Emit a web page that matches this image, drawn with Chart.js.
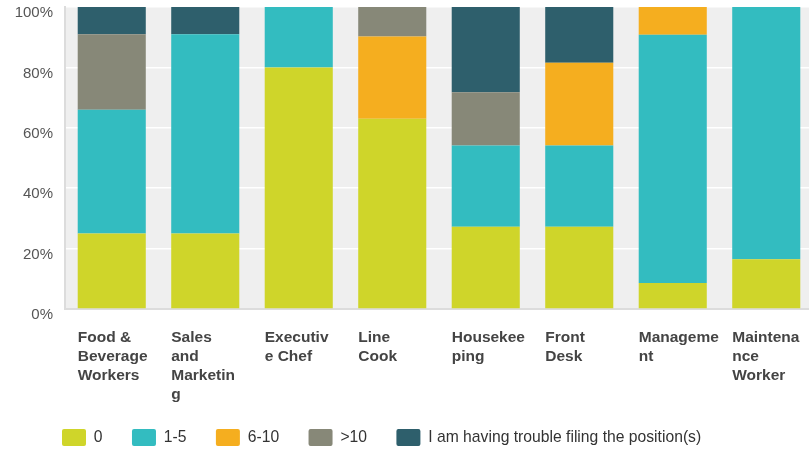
<!DOCTYPE html>
<html>
<head>
<meta charset="utf-8">
<script src="https://cdn.jsdelivr.net/npm/chart.js@4/dist/chart.umd.min.js"></script>
<style>
  html, body { margin: 0; padding: 0; background: #fff; overflow: hidden; }
  #wrap { width: 813px; height: 451px; position: relative; }
</style>
</head>
<body>
<div id="wrap"><canvas id="barChart"></canvas></div>
<script>
const categories = [
  ['Food &', 'Beverage', 'Workers'],
  ['Sales', 'and', 'Marketin', 'g'],
  ['Executiv', 'e Chef'],
  ['Line', 'Cook'],
  ['Housekee', 'ping'],
  ['Front', 'Desk'],
  ['Manageme', 'nt'],
  ['Maintena', 'nce', 'Worker']
];
const zero     = [25, 25, 80, 63, 27.2, 27.2, 8.6, 16.5];
const oneFive  = [41, 66, 20, 0, 26.9, 26.9, 82.2, 83.5];
const sixTen   = [0, 0, 0, 27.2, 0, 27.4, 9.2, 0];
const overTen  = [25, 0, 0, 9.8, 17.7, 0, 0, 0];
const trouble  = [9, 9, 0, 0, 28.2, 18.5, 0, 0];
const yTicks   = [0, 20, 40, 60, 80, 100];

// grey plot background
const plotBg = {
  id: 'plotBg',
  beforeDraw(chart) {
    const { ctx, chartArea: a } = chart;
    ctx.save();
    ctx.fillStyle = '#efefef';
    ctx.fillRect(a.left, a.top, a.right - a.left, a.bottom - a.top);
    ctx.restore();
  }
};

// nudge legend to the left/down, and let wrapped x labels overflow
const tweakLayout = {
  id: 'tweakLayout',
  afterLayout(chart) {
    chart.legend.left = 62 - 29.4;
    chart.legend.top += 5;
    chart.scales.x.bottom = chart.height;
  }
};

const ctx = document.getElementById('barChart').getContext('2d');
new Chart(ctx, {
  type: 'bar',
  data: {
    labels: categories,
    datasets: [
      { label: '0', data: zero, backgroundColor: '#cfd52a' },
      { label: '1-5', data: oneFive, backgroundColor: '#33bcc0' },
      { label: '6-10', data: sixTen, backgroundColor: '#f5ae1f' },
      { label: '>10', data: overTen, backgroundColor: '#878878' },
      { label: 'I am having trouble filing the position(s)', data: trouble, backgroundColor: '#2e5f6c' }
    ]
  },
  options: {
    responsive: true,
    maintainAspectRatio: false,
    animation: false,
    layout: { padding: { left: 0, top: 7, right: 0, bottom: 0 } },
    datasets: {
      bar: { barPercentage: 0.728, categoryPercentage: 1, borderWidth: 0 }
    },
    plugins: {
      tooltip: { enabled: false },
      legend: {
        display: true,
        position: 'bottom',
        align: 'start',
        labels: {
          boxWidth: 24,
          boxHeight: 17,
          padding: 29.4,
          useBorderRadius: true,
          borderRadius: 2,
          color: '#333',
          font: { family: 'Liberation Sans, Arial', size: 15.7 }
        }
      }
    },
    scales: {
      x: {
        stacked: true,
        afterFit(scale) {
          scale.height = 85.6;
          scale.paddingLeft = 0;
          scale.paddingRight = 0;
        },
        grid: { display: false },
        border: { display: true, color: '#dcdcdc', width: 2 },
        ticks: {
          autoSkip: false,
          maxRotation: 0,
          align: 'start',
          labelOffset: -34,
          padding: 11,
          color: '#444',
          font: { family: 'Liberation Sans, Arial', size: 15.5, weight: 'bold', lineHeight: 1.23 }
        }
      },
      y: {
        stacked: true,
        min: 0,
        max: 100,
        afterFit(scale) {
          scale.width = 65;
          scale.paddingTop = 0;
          scale.paddingBottom = 0;
        },
        grid: { color: '#ffffff', lineWidth: 1.5, drawTicks: false },
        border: { display: true, color: '#dcdcdc', width: 2 },
        ticks: {
          stepSize: 10,
          padding: 12,
          labelOffset: 6,
          color: '#555',
          font: { family: 'Liberation Sans, Arial', size: 15 },
          callback: v => yTicks.includes(v) ? v + '%' : null
        }
      }
    }
  },
  plugins: [plotBg, tweakLayout]
});
</script>
</body>
</html>
